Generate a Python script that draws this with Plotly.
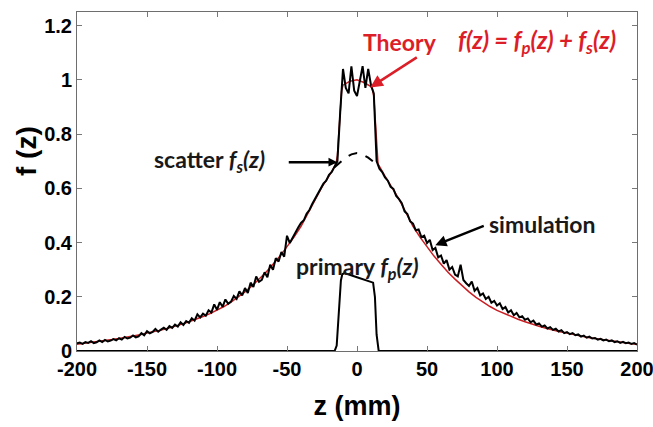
import plotly.graph_objects as go

# ---------------- data ----------------
sim_z = list(range(-200, 201, 2))
sim_left = [0.028, 0.031, 0.026, 0.033, 0.030, 0.036, 0.029, 0.032, 0.039, 0.033,
            0.041, 0.035, 0.038, 0.044, 0.039, 0.047, 0.042, 0.052, 0.046, 0.049,
            0.057, 0.050, 0.054, 0.066, 0.058,
            0.073, 0.065, 0.070, 0.081, 0.071, 0.079, 0.086, 0.078, 0.092, 0.085,
            0.097, 0.090, 0.106, 0.096, 0.110, 0.104, 0.121, 0.112, 0.135, 0.124,
            0.138, 0.130, 0.150, 0.142, 0.172, 0.152,
            0.180, 0.163, 0.190, 0.174, 0.182, 0.203, 0.192, 0.220, 0.205, 0.232,
            0.214, 0.252, 0.236, 0.275, 0.255, 0.262, 0.290, 0.272, 0.318, 0.300,
            0.342, 0.330, 0.365, 0.348, 0.425, 0.398, 0.418, 0.440, 0.455, 0.472,
            0.482, 0.506, 0.520, 0.542, 0.562, 0.580, 0.596, 0.617, 0.628, 0.650,
            0.660, 0.682, 0.700]
sim_peak = [0.88, 1.04, 0.97, 0.95, 1.05, 0.96, 0.94, 1.00, 1.05, 0.97, 1.04, 0.98, 0.95]
sim_right = [0.700, 0.672, 0.660, 0.640, 0.628, 0.605, 0.598, 0.572, 0.560, 0.545,
             0.515, 0.505, 0.478, 0.470, 0.445, 0.448, 0.420, 0.425,
             0.398, 0.410, 0.372, 0.380, 0.345, 0.352, 0.322, 0.335, 0.300, 0.310,
             0.282, 0.275, 0.318, 0.262, 0.250, 0.240, 0.256, 0.222, 0.232, 0.205,
             0.212, 0.192, 0.200, 0.178, 0.185, 0.168, 0.176, 0.155, 0.162, 0.142,
             0.150, 0.132, 0.140, 0.124, 0.128, 0.115, 0.120, 0.106, 0.112, 0.098,
             0.102, 0.090, 0.094, 0.083, 0.088, 0.078, 0.082, 0.072, 0.077, 0.066,
             0.070, 0.062, 0.066, 0.058, 0.061, 0.053, 0.057, 0.049, 0.053, 0.046,
             0.048, 0.042, 0.045, 0.039, 0.042, 0.036, 0.039, 0.033, 0.036, 0.030,
             0.034, 0.029, 0.031, 0.026, 0.029, 0.024]
sim_v = sim_left + sim_peak + sim_right
assert len(sim_v) == len(sim_z), (len(sim_v), len(sim_z))

# theory total f(z) = fp(z) + fs(z)
theory_z = [-200, -195, -190, -185, -180, -175, -170, -165, -160, -155, -150, -145,
            -140, -135, -130, -125, -120, -115, -110, -105, -100, -95, -90, -85,
            -80, -75, -70, -65, -60, -55, -50, -45, -40, -35, -30, -25, -20, -15,
            -14, -13, -12, -11, -10, -5, 0, 5, 10, 11, 12, 13, 14,
            15, 20, 25, 30, 35, 40, 45, 50, 55, 60, 65, 70, 75, 80, 85, 90, 95,
            100, 105, 110, 115, 120, 125, 130, 135, 140, 145, 150, 155, 160, 165,
            170, 175, 180, 185, 190, 195, 200]
theory_v = [0.025, 0.028, 0.031, 0.034, 0.038, 0.042, 0.046, 0.050, 0.055, 0.060,
            0.066, 0.071, 0.077, 0.084, 0.091, 0.099, 0.108, 0.117, 0.127, 0.138,
            0.150, 0.164, 0.180, 0.198, 0.218, 0.240, 0.265, 0.290, 0.320, 0.350,
            0.385, 0.420, 0.460, 0.510, 0.560, 0.605, 0.645, 0.690,
            0.720, 0.800, 0.900, 0.960, 0.980, 0.995, 1.000, 0.990, 0.975, 0.965,
            0.940, 0.860, 0.750,
            0.690, 0.645, 0.605, 0.560, 0.510, 0.460, 0.420, 0.385, 0.350, 0.320,
            0.290, 0.265, 0.240, 0.218, 0.198, 0.180, 0.164, 0.150, 0.138, 0.127,
            0.117, 0.108, 0.099, 0.091, 0.084, 0.077, 0.071, 0.066, 0.060, 0.055,
            0.050, 0.046, 0.042, 0.038, 0.034, 0.031, 0.028, 0.025]

# scatter component fs(z), visible (dashed) under the primary plateau
scatter_z = [-16, -12, -8, -4, 0, 4, 8, 12, 16]
scatter_v = [0.678, 0.697, 0.713, 0.725, 0.730, 0.725, 0.713, 0.697, 0.678]

# primary component fp(z)
primary_z = [-200, -16, -14.5, -13, -11.5, -10.5, -9, 0, 9, 11.5, 12.8, 14, 15.5, 200]
primary_v = [0, 0, 0.02, 0.15, 0.26, 0.283, 0.287, 0.272, 0.258, 0.252, 0.20, 0.06, 0, 0]

x_ticks = [-200, -150, -100, -50, 0, 50, 100, 150, 200]
x_tick_text = ["-200", "-150", "-100", "-50", "0", "50", "100", "150", "200"]
y_ticks = [0, 0.2, 0.4, 0.6, 0.8, 1.0, 1.2]
y_tick_text = ["0", "0.2", "0.4", "0.6", "0.8", "1", "1.2"]

RED = "rgb(220,30,40)"
TICKFONT = dict(family="Liberation Sans", size=20, color="black", weight="bold")
ANNFONT = "Lato"
ANNSIZE = 23
DARK = "rgb(25,25,25)"

fig = go.Figure()
fig.add_trace(go.Scatter(x=theory_z, y=theory_v, mode="lines",
                         line=dict(color="rgb(200,30,35)", width=1.5), name="theory"))
fig.add_trace(go.Scatter(x=sim_z, y=sim_v, mode="lines",
                         line=dict(color="black", width=2), name="simulation"))
fig.add_trace(go.Scatter(x=scatter_z, y=scatter_v, mode="lines",
                         line=dict(color="black", width=2, dash="dash"), name="scatter"))
fig.add_trace(go.Scatter(x=primary_z, y=primary_v, mode="lines",
                         line=dict(color="black", width=2), name="primary"))

ann = []
# text labels
ann.append(dict(x=30.9, y=1.141, text="<b>Theory</b>", showarrow=False,
                font=dict(family=ANNFONT, size=ANNSIZE, color=RED)))
ann.append(dict(x=128.8, y=1.141,
                text="<b><i>f(z)&nbsp;=&nbsp;f<sub>p</sub>(z)&nbsp;+&nbsp;f<sub>s</sub>(z)</i></b>",
                showarrow=False, font=dict(family=ANNFONT, size=24, color=RED)))
ann.append(dict(x=-105.5, y=0.703,
                text="<b>scatter <i>f<sub>s</sub>(z)</i></b>", showarrow=False,
                font=dict(family=ANNFONT, size=ANNSIZE, color=DARK)))
ann.append(dict(x=132.4, y=0.467, text="<b>simulation</b>", showarrow=False,
                font=dict(family=ANNFONT, size=ANNSIZE, color=DARK)))
ann.append(dict(x=0.5, y=0.309,
                text="<b>primary <i>f<sub>p</sub>(z)</i></b>", showarrow=False,
                font=dict(family=ANNFONT, size=ANNSIZE, color=DARK)))
# arrows
ann.append(dict(x=9.5, y=0.972, ax=48, ay=-31, text="", showarrow=True,
                arrowhead=2, arrowsize=1, arrowwidth=2.5, arrowcolor=RED))
ann.append(dict(x=-14.1, y=0.696, ax=-50, ay=0, text="", showarrow=True,
                arrowhead=2, arrowsize=0.7, arrowwidth=2.5, arrowcolor="black"))
ann.append(dict(x=55.9, y=0.39, ax=50, ay=-20, text="", showarrow=True,
                arrowhead=2, arrowsize=0.9, arrowwidth=2.5, arrowcolor="black"))
# y-axis title
ann.append(dict(xref="paper", yref="paper", x=-0.0893, y=0.59, text="<b>f (z)</b>",
                textangle=-90, showarrow=False, xanchor="center", yanchor="middle",
                font=dict(family="Liberation Sans", size=28, color="black")))

fig.update_layout(
    width=653, height=427,
    margin=dict(l=77, r=16, t=12, b=76, autoexpand=False),
    paper_bgcolor="white", plot_bgcolor="white",
    showlegend=False,
    annotations=ann,
)
fig.update_xaxes(range=[-200, 200], tickvals=x_ticks, ticktext=x_tick_text,
                 ticks="inside", ticklen=5, tickcolor="rgb(120,120,120)",
                 showline=True, linecolor="rgb(110,110,110)", linewidth=1,
                 mirror="allticks", showgrid=False, zeroline=False,
                 tickfont=TICKFONT, ticklabeloverflow="allow", automargin=False,
                 title=dict(text="<b>z (mm)</b>",
                            font=dict(family="Liberation Sans", size=27, color="black"),
                            standoff=17))
fig.update_yaxes(range=[0, 1.25], tickvals=y_ticks, ticktext=y_tick_text,
                 ticks="inside", ticklen=5, tickcolor="rgb(120,120,120)",
                 showline=True, linecolor="rgb(110,110,110)", linewidth=1,
                 mirror="allticks", showgrid=False, zeroline=False,
                 tickfont=TICKFONT, automargin=False)

fig.write_html("out.html")
